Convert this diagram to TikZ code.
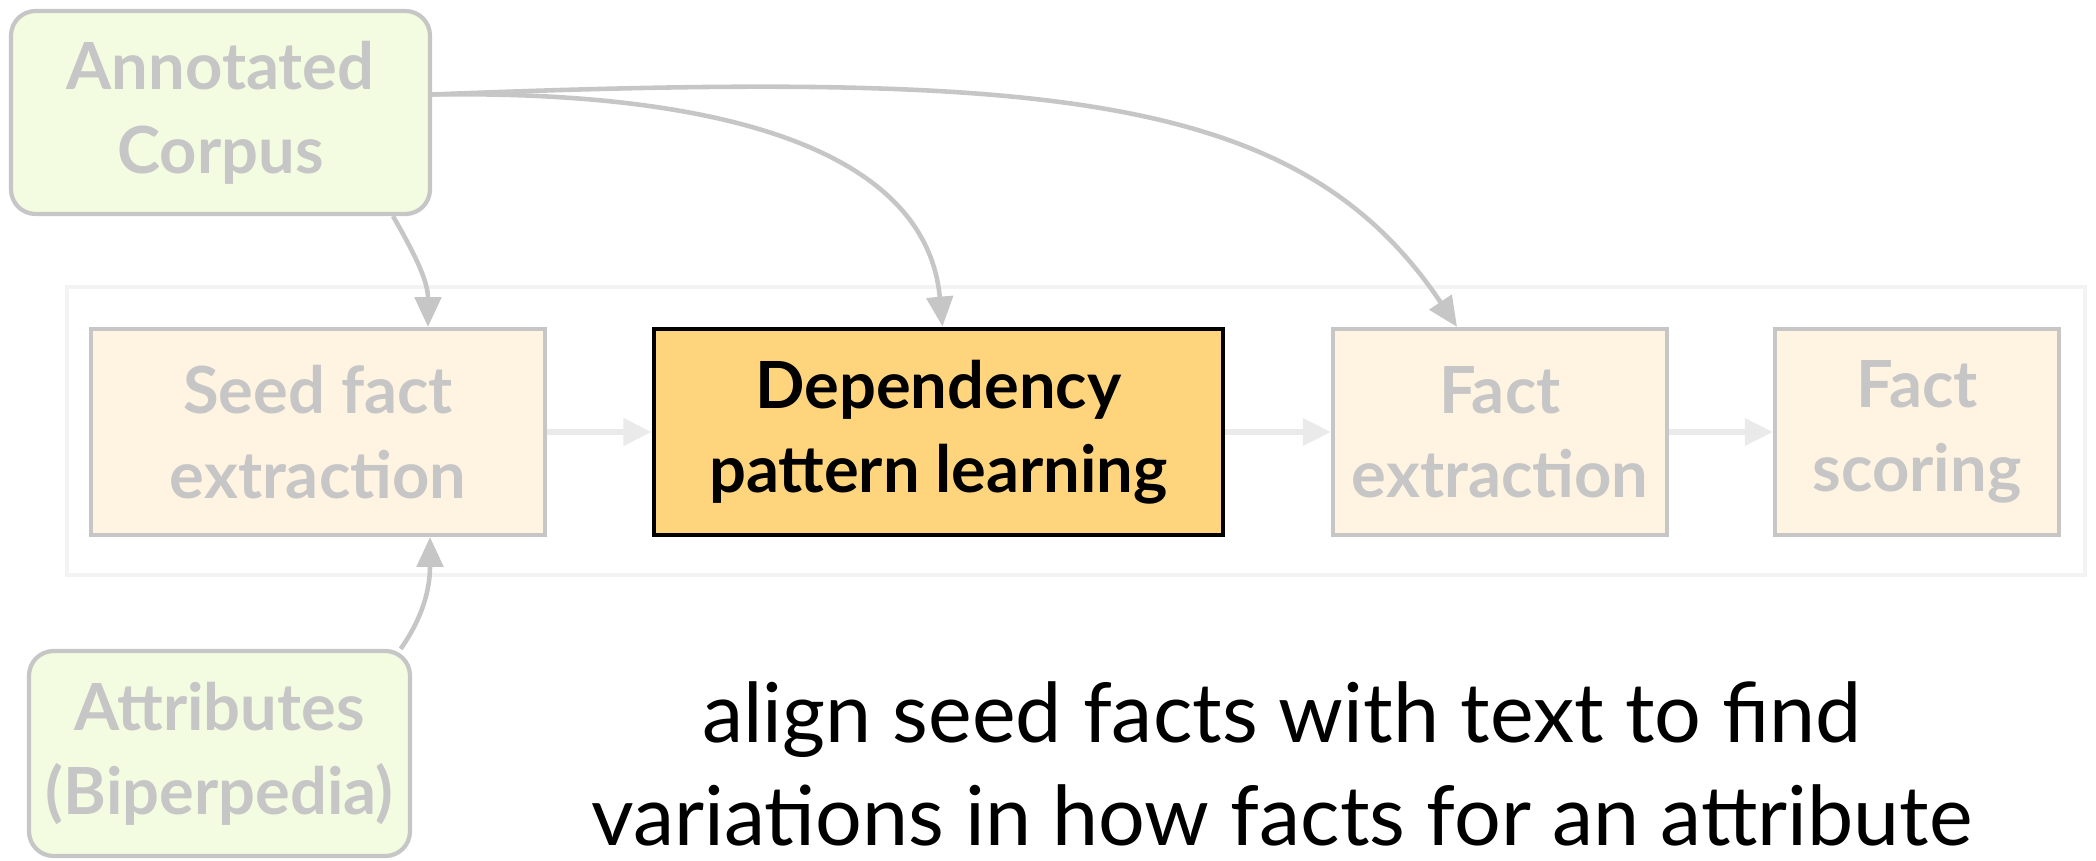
\documentclass[tikz,border=0pt]{standalone}
\usepackage{fontspec}
\setmainfont{Lato}
\newfontfamily\notefont{Lato}
\usepackage{tikz}
\usetikzlibrary{arrows.meta}

\definecolor{fadegray}{HTML}{C6C6C6}
\definecolor{framegray}{HTML}{F3F3F3}
\definecolor{flowgray}{HTML}{EAEAEA}
\definecolor{srcgreen}{HTML}{F3FCE1}
\definecolor{stagecream}{HTML}{FFF4E1}
\definecolor{activeyellow}{HTML}{FED57D}

\begin{document}
\begin{tikzpicture}[
    source/.style={rectangle, rounded corners=7pt, draw=fadegray, line width=1.2pt, fill=srcgreen, align=center, text=fadegray, font=\fontsize{18.5}{24}\selectfont\bfseries},
    stagebox/.style={rectangle, draw=fadegray, line width=1.2pt, fill=stagecream, minimum height=2.06cm, align=center, text=fadegray, font=\fontsize{18.5}{24}\selectfont\bfseries},
    active/.style={stagebox, draw=black, fill=activeyellow, text=black, line width=1.4pt},
    frame/.style={rectangle, draw=framegray, line width=1.2pt, minimum width=20.18cm, minimum height=2.88cm},
    link/.style={-{Triangle[length=8.5pt,width=7.5pt]}, draw=fadegray, line width=1.3pt},
    flow/.style={-{Triangle[length=8pt,width=7.5pt]}, draw=flowgray, line width=1.8pt}
]
\useasboundingbox (0,0) rectangle (20.96,-8.61);

% pipeline
\node[frame] (pipeline) at (10.76,-4.31) {};
\node[stagebox, minimum width=4.54cm] (seed) at (3.18,-4.32)  {Seed fact\\extraction};
\node[active, minimum width=5.69cm]   (dep)  at (9.385,-4.32) {Dependency\\pattern learning};
\node[stagebox, minimum width=3.34cm] (fe)   at (15.0,-4.32)  {Fact\\extraction};
\node[stagebox, minimum width=2.84cm] (fs)   at (19.17,-4.32) {Fact\\scoring};

% inputs
\node[source, minimum width=4.19cm, minimum height=2.03cm] (corpus) at (2.205,-1.125) {Annotated\\Corpus};
\node[source, minimum width=3.81cm, minimum height=2.05cm] (attr)   at (2.195,-7.535) {Attributes\\(Biperpedia)};

\draw[flow] (seed) -- (dep);
\draw[flow] (dep) -- (fe);
\draw[flow] (fe) -- (fs);

\draw[link] (corpus.-31) to[out=-60, in=90] ([xshift=1.1cm]seed.north);
\draw[link] (attr.30) to[out=55, in=-90] ([xshift=1.12cm]seed.south);
\draw[link] ([yshift=0.18cm]corpus.east) .. controls +(2.67,0.04) and +(-0.17,1.85) .. ([xshift=0.04cm]dep.north);
\draw[link] ([yshift=0.18cm]corpus.east) .. controls +(6.17,0.24) and +(-1.57,2.35) .. ([xshift=-0.43cm]fe.north);

\node[anchor=base, align=center, font=\notefont\fontsize{23.5}{29.2}\selectfont] (note) at (12.82,-8.45)
    {align seed facts with text to find\\variations in how facts for an attribute};
\end{tikzpicture}
\end{document}
